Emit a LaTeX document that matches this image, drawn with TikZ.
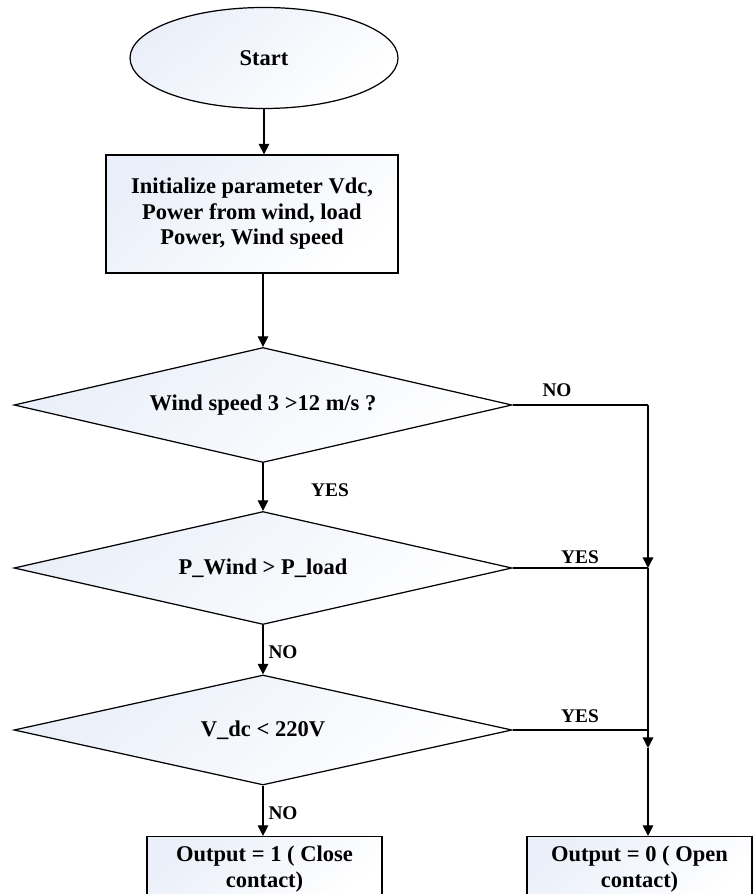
\documentclass[tikz,border=0pt]{standalone}
\usepackage{fontspec}
\setmainfont{Liberation Serif}
\usetikzlibrary{arrows.meta,positioning,shapes.geometric}
\definecolor{bgblue}{RGB}{234,239,249}

\tikzset{
  shadefill/.style={draw=black, line width=0.7pt, top color=bgblue, bottom color=white, shading angle=40},
  startnode/.style={shadefill, ellipse, minimum width=5.36cm, minimum height=2.02cm, font=\fontsize{12.8}{14}\selectfont\bfseries},
  procbox/.style={shadefill, rectangle, align=center, font=\fontsize{12.8}{14.5}\selectfont\bfseries},
  decision/.style={shadefill, diamond, aspect=4.4, inner sep=0pt, minimum width=9.96cm, align=center, font=\fontsize{12.8}{14}\selectfont\bfseries},
  lbl/.style={font=\fontsize{11}{13}\selectfont\bfseries},
  flow/.style={line width=0.7pt, -{Triangle[length=6pt,width=6pt]}},
  wire/.style={line width=0.7pt}
}

\begin{document}
\begin{tikzpicture}
  \useasboundingbox (0,0) rectangle (15.06,-17.88);
  \clip (0,0) rectangle (15.06,-17.88);

  % start and initialization
  \node[startnode] (start) at (5.28,-1.16) {Start};
  \node[procbox, minimum width=5.84cm, minimum height=2.36cm] (init) at (5.04,-4.28)
    {Initialize parameter Vdc,\\Power from wind, load\\Power, Wind speed};

  % decisions
  \node[decision, minimum height=2.30cm] (wind) at (5.26,-8.10) {Wind speed 3 >12 m/s ?};
  \node[decision, minimum height=2.26cm] (pcomp) at (5.26,-11.36) {P\_Wind > P\_load};
  \node[decision, minimum height=2.20cm] (vdc) at (5.26,-14.60) {V\_dc < 220V};

  % outputs
  \node[procbox, minimum width=4.70cm, minimum height=1.30cm] (close) at (5.29,-17.38)
    {Output = 1 ( Close\\contact)};
  \node[procbox, minimum width=4.50cm, minimum height=1.30cm] (open) at (12.79,-17.38)
    {Output = 0 ( Open\\contact)};

  % right-hand bus
  \coordinate (j1) at (12.96,-8.10);
  \coordinate (j2) at (12.96,-11.36);
  \coordinate (j3) at (12.96,-14.60);
  \coordinate (j3b) at (12.96,-14.96);

  % main column
  \draw[flow] (start.south) -- (start.south |- init.north);
  \draw[flow] (init.south -| wind.north) -- (wind.north);
  \draw[flow] (wind.south) -- (pcomp.north);
  \draw[flow] (pcomp.south) -- (vdc.north);
  \draw[flow] (vdc.south) -- (vdc.south |- close.north);

  % branches to the right
  \draw[wire] (wind.east) -- (j1);
  \draw[flow] (j1) -- (j2);
  \draw[wire] (pcomp.east) -- (j2);
  \draw[wire] (j2) -- (j3);
  \draw[wire] (vdc.east) -- (j3);
  \draw[flow] (j3) -- (j3b);
  \draw[flow] (j3b) -- (j3b |- open.north);

  % labels
  \node[lbl] (noA) at (11.14,-7.80) {NO};
  \node[lbl] (yesA) at (6.60,-9.80) {YES};
  \node[lbl] (yesB) at (11.60,-11.14) {YES};
  \node[lbl] (noB) at (5.66,-13.04) {NO};
  \node[lbl] (yesC) at (11.60,-14.32) {YES};
  \node[lbl] (noC) at (5.66,-16.26) {NO};
\end{tikzpicture}
\end{document}
